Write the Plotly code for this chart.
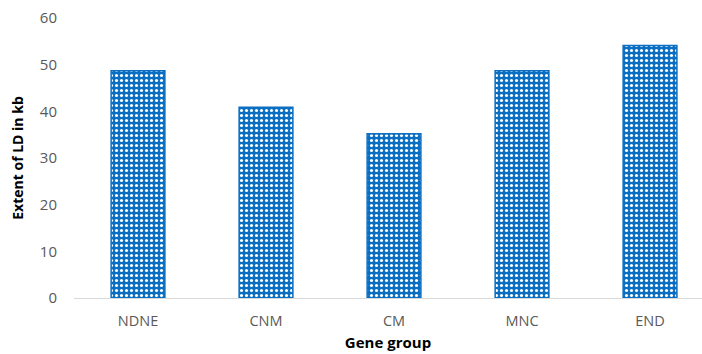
import plotly.graph_objects as go

categories = ["NDNE", "CNM", "CM", "MNC", "END"]
values = [48.7, 40.9, 35.2, 48.7, 54.1]
y_ticks = [0, 10, 20, 30, 40, 50, 60]

blue = "#0A6FC2"

fig = go.Figure(
    go.Bar(
        x=categories,
        y=values,
        width=0.42,
        marker=dict(
            color=blue,
            line=dict(color=blue, width=1.5),
            pattern=dict(shape=".", fgcolor="white", bgcolor=blue,
                         size=5, solidity=0.3, fillmode="replace"),
        ),
    )
)

fig.update_layout(
    width=702, height=354,
    margin=dict(l=74, r=0, t=18, b=56, autoexpand=False),
    paper_bgcolor="white", plot_bgcolor="white",
    showlegend=False,
    font=dict(family="Open Sans", size=14, color="#595959"),
    xaxis=dict(
        range=[-0.5, 4.406],
        showline=True, linecolor="#D9D9D9", linewidth=1,
        showgrid=False, ticks="", ticklabelstandoff=10,
        tickfont=dict(size=14.5, color="#595959"),
        title=dict(text="<b>Gene group</b>", font=dict(size=15, color="black"), standoff=8),
    ),
    yaxis=dict(
        range=[0, 60], tickvals=y_ticks,
        showline=False, showgrid=False, zeroline=False,
        ticks="", ticklabelstandoff=16,
        tickfont=dict(size=15, color="#595959"),
        title=dict(text="<b>Extent of LD in kb</b>", font=dict(size=14, color="black"), standoff=12),
    ),
)

fig.write_html("out.html", config={"displayModeBar": False},
               post_script="document.body.style.margin='0';document.body.style.padding='0';")
